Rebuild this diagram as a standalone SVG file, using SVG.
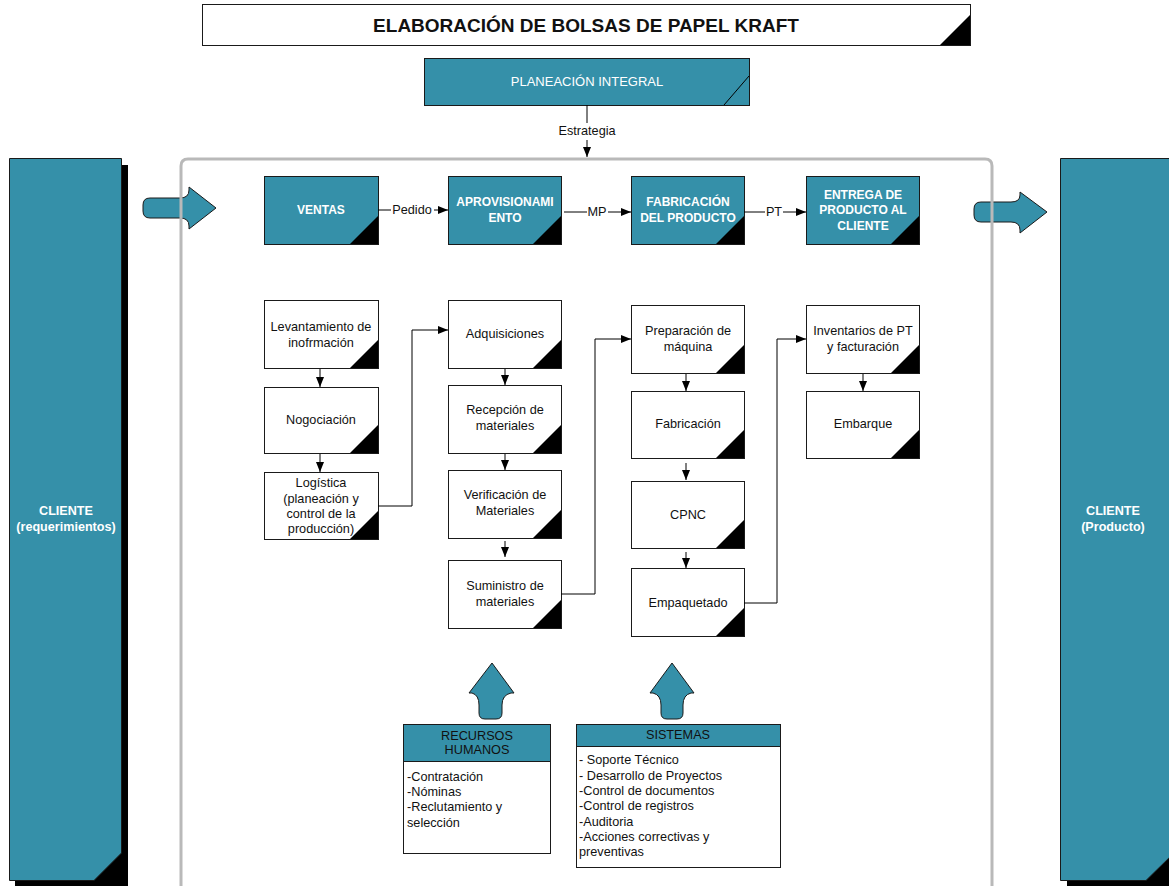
<svg xmlns="http://www.w3.org/2000/svg" width="1169" height="886" viewBox="0 0 1169 886">
<defs>
<style>
.teal{fill:#3590a9;stroke:#1a1a1a;stroke-width:1}
.box{fill:#fff;stroke:#1a1a1a;stroke-width:1}
.tri{fill:#000}
.t{font-family:'Liberation Sans',Arial,sans-serif;font-size:12.7px;text-anchor:middle;fill:#111}
.tl{font-family:'Liberation Sans',Arial,sans-serif;font-size:12.7px;text-anchor:start;fill:#111}
.w{fill:#fff}
.b{font-weight:bold;font-size:12px}
.bc{font-weight:bold;font-size:12.6px}
.conn{stroke:#000;fill:none;stroke-width:1}
.barrow{fill:#3590a9;stroke:#1a1a1a;stroke-width:1}
</style>
<marker id="ah" markerUnits="userSpaceOnUse" markerWidth="10" markerHeight="8" refX="10" refY="4" orient="auto">
<path d="M0,0 L10,4 L0,8 Z" fill="#000"/>
</marker>
</defs>
<rect width="1169" height="886" fill="#fff"/>

<g id="title">
<rect x="202.5" y="4.5" width="768" height="41" class="box" stroke="#333"/>
<path d="M940,45 L970,45 L970,15 Z" class="tri"/>
<text x="586" y="32" class="t" style="font-size:19px;font-weight:bold">ELABORACIÓN DE BOLSAS DE PAPEL KRAFT</text>
</g>

<g id="planeacion">
<rect x="424.5" y="58.5" width="325" height="47" class="teal"/>
<line x1="724" y1="105" x2="749" y2="76" stroke="#000"/>
<text x="587" y="86" class="t w" style="font-size:13px">PLANEACIÓN INTEGRAL</text>
</g>

<g id="cliente-izq">
<path d="M15,165 L128,165 L128,886 L15,886 Z" fill="#000"/>
<path d="M9.5,158.5 L121.5,158.5 L121.5,853 L94,880.5 L9.5,880.5 Z" class="teal"/>
<text x="66" y="515" class="t w bc">CLIENTE</text>
<text x="66" y="531" class="t w bc">(requerimientos)</text>
</g>

<g id="cliente-der">
<path d="M1067,165 L1175,165 L1175,886 L1067,886 Z" fill="#000"/>
<path d="M1060.5,158.5 L1175,158.5 L1175,852 L1146,880.5 L1060.5,880.5 Z" class="teal"/>
<text x="1113" y="515" class="t w bc">CLIENTE</text>
<text x="1113" y="531" class="t w bc">(Producto)</text>
</g>

<g id="flecha-entrada">
<path d="M150,198 L180,198 Q189,198 189,190 L189,187 L216,208 L189,229 L189,226 Q189,218 180,218 L150,218 Q143,218 143,211 L143,205 Q143,198 150,198 Z" class="barrow"/>
</g>
<g id="flecha-salida">
<path d="M981,202 L1011,202 Q1020,202 1020,195 L1020,192 L1047,212 L1020,233 L1020,230 Q1020,222 1011,222 L981,222 Q974,222 974,215 L974,209 Q974,202 981,202 Z" class="barrow"/>
</g>
<g id="flecha-rh">
<path d="M492,663 L514,693 L511,693 Q502,695 502,705 L502,713 Q502,719 496,719 L485,719 Q479,719 479,713 L479,705 Q479,695 472,693 L469,693 Z" class="barrow"/>
</g>
<g id="flecha-sis">
<path d="M672,663 L694,693 L691,693 Q683,695 683,705 L683,713 Q683,719 677,719 L667,719 Q661,719 661,713 L661,705 Q661,695 653,693 L650,693 Z" class="barrow"/>
</g>

<g id="contenedor">
<path d="M181,886 L181,166 Q181,159 188,159 L985,159 Q992,159 992,166 L992,886" fill="none" stroke="#b9b9b9" stroke-width="3"/>
</g>

<g id="ventas">
<rect x="264.5" y="176.5" width="114" height="68" class="teal"/>
<path d="M350,244 L378,244 L378,216 Z" class="tri"/>
<text x="321" y="214" class="t w b">VENTAS</text>
</g>
<g id="aprovisionamiento">
<rect x="448.5" y="176.5" width="113" height="68" class="teal"/>
<path d="M533,244 L561,244 L561,216 Z" class="tri"/>
<text x="505" y="206" class="t w b">APROVISIONAMI</text>
<text x="505" y="222" class="t w b">ENTO</text>
</g>
<g id="fabricacion-producto">
<rect x="631.5" y="176.5" width="113" height="68" class="teal"/>
<path d="M716,244 L744,244 L744,216 Z" class="tri"/>
<text x="688" y="206" class="t w b">FABRICACIÓN</text>
<text x="688" y="222" class="t w b">DEL PRODUCTO</text>
</g>
<g id="entrega">
<rect x="806.5" y="176.5" width="113" height="68" class="teal"/>
<path d="M891,244 L919,244 L919,216 Z" class="tri"/>
<text x="863" y="199" class="t w b">ENTREGA DE</text>
<text x="863" y="214" class="t w b">PRODUCTO AL</text>
<text x="863" y="230" class="t w b">CLIENTE</text>
</g>

<g id="levantamiento">
<rect x="264.5" y="300.5" width="114" height="68" class="box"/>
<path d="M350,368 L378,368 L378,340 Z" class="tri"/>
<text x="321" y="331" class="t">Levantamiento de</text>
<text x="321" y="347" class="t">inofrmación</text>
</g>
<g id="nogociacion">
<rect x="264.5" y="387.5" width="114" height="66" class="box"/>
<path d="M350,453 L378,453 L378,425 Z" class="tri"/>
<text x="321" y="424" class="t">Nogociación</text>
</g>
<g id="logistica">
<rect x="264.5" y="472.5" width="114" height="67" class="box"/>
<path d="M350,539 L378,539 L378,511 Z" class="tri"/>
<text x="321" y="487" class="t">Logística</text>
<text x="321" y="503" class="t">(planeación y</text>
<text x="321" y="518" class="t">control de la</text>
<text x="321" y="533" class="t">producción)</text>
</g>

<g id="adquisiciones">
<rect x="448.5" y="300.5" width="113" height="68" class="box"/>
<path d="M533,368 L561,368 L561,340 Z" class="tri"/>
<text x="505" y="338" class="t">Adquisiciones</text>
</g>
<g id="recepcion">
<rect x="448.5" y="385.5" width="113" height="68" class="box"/>
<path d="M533,453 L561,453 L561,425 Z" class="tri"/>
<text x="505" y="414" class="t">Recepción de</text>
<text x="505" y="430" class="t">materiales</text>
</g>
<g id="verificacion">
<rect x="448.5" y="470.5" width="113" height="68" class="box"/>
<path d="M533,538 L561,538 L561,510 Z" class="tri"/>
<text x="505" y="499" class="t">Verificación de</text>
<text x="505" y="515" class="t">Materiales</text>
</g>
<g id="suministro">
<rect x="448.5" y="560.5" width="113" height="68" class="box"/>
<path d="M533,628 L561,628 L561,600 Z" class="tri"/>
<text x="505" y="590" class="t">Suministro de</text>
<text x="505" y="606" class="t">materiales</text>
</g>

<g id="preparacion">
<rect x="631.5" y="305.5" width="113" height="68" class="box"/>
<path d="M716,373 L744,373 L744,345 Z" class="tri"/>
<text x="688" y="335" class="t">Preparación de</text>
<text x="688" y="351" class="t">máquina</text>
</g>
<g id="fabricacion">
<rect x="631.5" y="391.5" width="113" height="67" class="box"/>
<path d="M716,458 L744,458 L744,430 Z" class="tri"/>
<text x="688" y="428" class="t">Fabricación</text>
</g>
<g id="cpnc">
<rect x="631.5" y="481.5" width="113" height="67" class="box"/>
<path d="M716,548 L744,548 L744,520 Z" class="tri"/>
<text x="688" y="519" class="t">CPNC</text>
</g>
<g id="empaquetado">
<rect x="631.5" y="568.5" width="113" height="68" class="box"/>
<path d="M716,636 L744,636 L744,608 Z" class="tri"/>
<text x="688" y="607" class="t">Empaquetado</text>
</g>

<g id="inventarios">
<rect x="806.5" y="305.5" width="113" height="68" class="box"/>
<path d="M891,373 L919,373 L919,345 Z" class="tri"/>
<text x="863" y="335" class="t">Inventarios de PT</text>
<text x="863" y="351" class="t">y facturación</text>
</g>
<g id="embarque">
<rect x="806.5" y="391.5" width="113" height="67" class="box"/>
<path d="M891,458 L919,458 L919,430 Z" class="tri"/>
<text x="863" y="428" class="t">Embarque</text>
</g>

<g id="recursos-humanos">
<rect x="403.5" y="724.5" width="147" height="129" class="box"/>
<rect x="403.5" y="724.5" width="147" height="37" class="teal"/>
<text x="477" y="740" class="t">RECURSOS</text>
<text x="477" y="754" class="t">HUMANOS</text>
<text x="407" y="781" class="tl">-Contratación</text>
<text x="407" y="796" class="tl">-Nóminas</text>
<text x="407" y="811" class="tl">-Reclutamiento y</text>
<text x="407" y="827" class="tl">selección</text>
</g>

<g id="sistemas">
<rect x="576.5" y="724.5" width="204" height="143" class="box"/>
<rect x="576.5" y="724.5" width="204" height="22" class="teal"/>
<text x="678" y="739" class="t">SISTEMAS</text>
<text x="579" y="764" class="tl">- Soporte Técnico</text>
<text x="579" y="780" class="tl">- Desarrollo de Proyectos</text>
<text x="579" y="795" class="tl">-Control de documentos</text>
<text x="579" y="810" class="tl">-Control de registros</text>
<text x="579" y="826" class="tl">-Auditoria</text>
<text x="579" y="841" class="tl">-Acciones correctivas y</text>
<text x="579" y="856" class="tl">preventivas</text>
</g>

<g id="conectores">
<line x1="587" y1="105" x2="587" y2="123" class="conn"/>
<text x="587" y="135" class="t">Estrategia</text>
<line x1="587" y1="140" x2="587" y2="157" class="conn" marker-end="url(#ah)"/>

<line x1="378" y1="210" x2="391" y2="210" class="conn"/>
<text x="412" y="214" class="t">Pedido</text>
<line x1="434" y1="210" x2="448" y2="210" class="conn" marker-end="url(#ah)"/>

<line x1="564" y1="212" x2="587" y2="212" class="conn"/>
<text x="597" y="216" class="t">MP</text>
<line x1="608" y1="212" x2="631" y2="212" class="conn" marker-end="url(#ah)"/>

<line x1="744" y1="212" x2="765" y2="212" class="conn"/>
<text x="774" y="216" class="t">PT</text>
<line x1="783" y1="212" x2="806" y2="212" class="conn" marker-end="url(#ah)"/>

<line x1="320" y1="369" x2="320" y2="387" class="conn" marker-end="url(#ah)"/>
<line x1="320" y1="454" x2="320" y2="472" class="conn" marker-end="url(#ah)"/>
<path d="M378,506 H412 V330 H448" class="conn" marker-end="url(#ah)"/>

<line x1="505" y1="369" x2="505" y2="385" class="conn" marker-end="url(#ah)"/>
<line x1="505" y1="454" x2="505" y2="470" class="conn" marker-end="url(#ah)"/>
<line x1="505" y1="541" x2="505" y2="557" class="conn" marker-end="url(#ah)"/>
<path d="M561,594 H595 V339 H631" class="conn" marker-end="url(#ah)"/>

<line x1="686" y1="374" x2="686" y2="391" class="conn" marker-end="url(#ah)"/>
<line x1="686" y1="463" x2="686" y2="480" class="conn" marker-end="url(#ah)"/>
<line x1="686" y1="552" x2="686" y2="568" class="conn" marker-end="url(#ah)"/>
<path d="M744,603 H777 V339 H806" class="conn" marker-end="url(#ah)"/>

<line x1="863" y1="374" x2="863" y2="391" class="conn" marker-end="url(#ah)"/>
</g>
</svg>
